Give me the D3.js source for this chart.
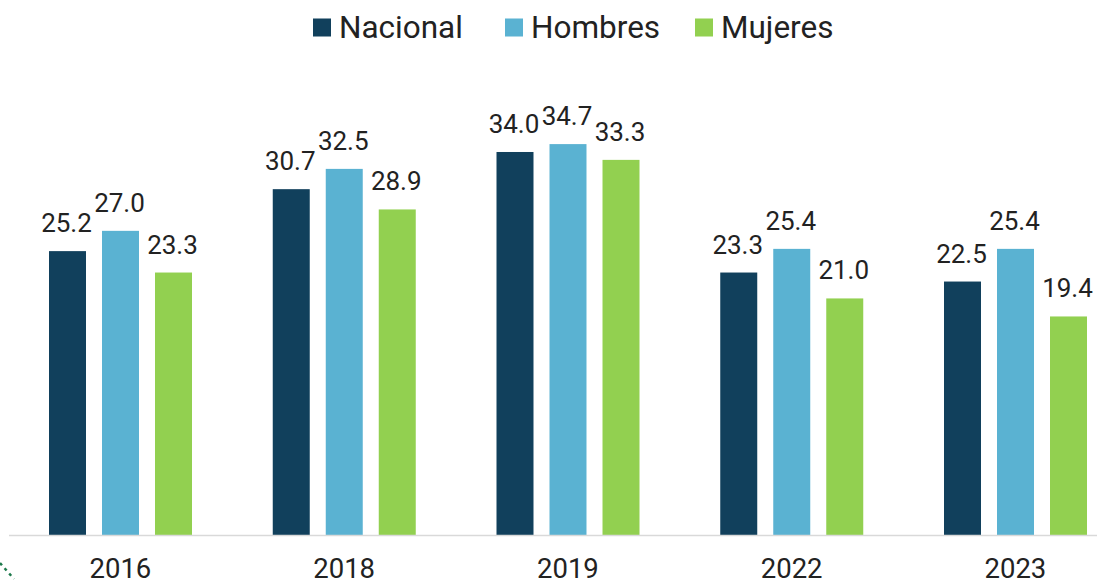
<!DOCTYPE html>
<html>
<head>
<meta charset="utf-8">
<script src="https://cdn.jsdelivr.net/npm/d3@7"></script>
<style>
  html, body { margin: 0; padding: 0; background: #fff; }
  svg { display: block; font-family: Roboto, "Noto Sans", sans-serif; }
</style>
</head>
<body>
<div id="chart"></div>
<script>
// data
const years = ["2016", "2018", "2019", "2022", "2023"];
const series = ["Nacional", "Hombres", "Mujeres"];
const nacional = [25.2, 30.7, 34.0, 23.3, 22.5];
const hombres = [27.0, 32.5, 34.7, 25.4, 25.4];
const mujeres = [23.3, 28.9, 33.3, 21.0, 19.4];
const colors = ["#11405c", "#5ab2d2", "#92d050"];

const width = 1097, height = 582;
const baseline = 535;

const svg = d3.select("#chart").append("svg")
    .attr("width", width)
    .attr("height", height);

// scales
const x = d3.scaleBand()
    .domain(years)
    .range([8.5, 8.5 + 5 * 223.75]);
const xs = d3.scaleBand()
    .domain(series)
    .range([40.5, 183.5])
    .paddingInner(0.302);
const y = d3.scaleLinear()
    .domain([0, 40])
    .range([baseline, baseline - 40 * 11.265]);

const rows = [];
years.forEach((yr, i) => {
    [nacional, hombres, mujeres].forEach((arr, j) => {
        rows.push({year: yr, s: series[j], v: arr[i], c: colors[j]});
    });
});

// bars
svg.append("g").selectAll("rect")
    .data(rows)
    .enter().append("rect")
    .attr("x", d => x(d.year) + xs(d.s))
    .attr("y", d => y(d.v))
    .attr("width", xs.bandwidth())
    .attr("height", d => y(0) - y(d.v))
    .attr("fill", d => d.c);

// value labels
svg.append("g").selectAll("text")
    .data(rows)
    .enter().append("text")
    .attr("x", d => x(d.year) + xs(d.s) + xs.bandwidth() / 2 - 1)
    .attr("y", d => y(d.v) - 19)
    .attr("text-anchor", "middle")
    .attr("font-size", 26)
    .attr("fill", "#222")
    .text(d => d.v.toFixed(1));

// x axis
const xAxis = svg.append("g")
    .attr("transform", `translate(0,${baseline})`)
    .call(d3.axisBottom(x).tickSize(0).tickPadding(0));
xAxis.select(".domain")
    .attr("stroke", "#d9d9d9")
    .attr("stroke-width", 1.5);
xAxis.selectAll(".tick text")
    .attr("dy", 0)
    .attr("y", 43)
    .attr("font-size", 27.5)
    .attr("font-family", "Roboto, sans-serif")
    .attr("fill", "#222");

// legend
const legendX = [313, 505, 695];
const legend = svg.append("g").selectAll("g")
    .data(series)
    .enter().append("g")
    .attr("transform", (d, i) => `translate(${legendX[i]},0)`);
legend.append("rect")
    .attr("y", 18.5)
    .attr("width", 18)
    .attr("height", 18)
    .attr("fill", (d, i) => colors[i]);
legend.append("text")
    .attr("x", 26)
    .attr("y", 38)
    .attr("font-size", 31.5)
    .attr("fill", "#222")
    .text(d => d);

// little green mark in the corner
svg.append("line")
    .attr("x1", 0).attr("y1", 563)
    .attr("x2", 14).attr("y2", 579)
    .attr("stroke", "#1e7a4c")
    .attr("stroke-width", 2.5)
    .attr("stroke-dasharray", "3 4");
</script>
</body>
</html>
